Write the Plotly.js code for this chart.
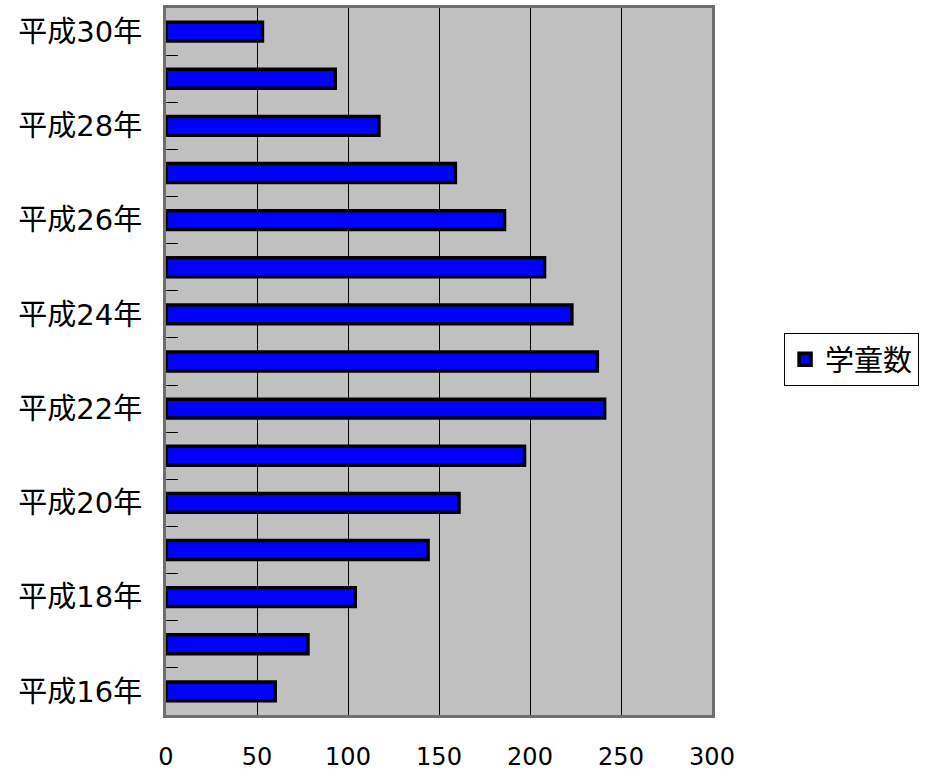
<!DOCTYPE html>
<html>
<head>
<meta charset="utf-8">
<script src="https://cdn.plot.ly/plotly-3.0.1.min.js"></script>
<style>html,body{margin:0;padding:0;background:#fff;}#chart{width:944px;height:776px;}</style>
</head>
<body>
<div id="chart"></div>
<script>
const categories = ["平成16年","平成17年","平成18年","平成19年","平成20年","平成21年","平成22年","平成23年","平成24年","平成25年","平成26年","平成27年","平成28年","平成29年","平成30年"];
const tickLabels = ["平成16年","","平成18年","","平成20年","","平成22年","","平成24年","","平成26年","","平成28年","","平成30年"];
const values = [60, 78, 104, 144, 161, 197, 241, 237, 223, 208, 186, 159, 117, 93, 53];
const seriesName = "学童数";
const xTicks = [0, 50, 100, 150, 200, 250, 300];

const trace = {
  type: "bar",
  orientation: "h",
  name: seriesName,
  y: categories,
  x: values,
  width: 0.4,
  marker: {color: "#0000FF", line: {color: "#000000", width: 3.5}},
  showlegend: true,
  hoverinfo: "x+y"
};

const layout = {
  width: 944, height: 776,
  margin: {l: 166, r: 232, t: 8, b: 61},
  paper_bgcolor: "#FFFFFF",
  plot_bgcolor: "#C0C0C0",
  font: {family: "DejaVu Sans, 'Noto Sans CJK JP', sans-serif", color: "#000"},
  showlegend: true,
  xaxis: {
    range: [0, 300],
    tickvals: xTicks,
    ticks: "",
    showgrid: true, gridcolor: "#000000", gridwidth: 1,
    zeroline: false,
    showline: true, linecolor: "#6e6e6e", linewidth: 3, mirror: true,
    tickfont: {size: 24, family: "DejaVu Sans, sans-serif"},
    ticklabelstandoff: 18,
    fixedrange: true
  },
  yaxis: {
    type: "category",
    categoryorder: "array",
    categoryarray: categories,
    tickmode: "array",
    tickvals: categories,
    ticktext: tickLabels,
    tickson: "boundaries",
    ticks: "inside", ticklen: 12, tickcolor: "#000", tickwidth: 1,
    showgrid: false,
    showline: true, linecolor: "#6e6e6e", linewidth: 3, mirror: true,
    tickfont: {size: 29, family: "DejaVu Sans, 'Noto Sans CJK JP', sans-serif"},
    ticklabelstandoff: 15,
    range: [-0.5, 14.5],
    fixedrange: true
  },
  legend: {
    x: 1.132, xanchor: "left",
    y: 0.503, yanchor: "middle",
    bgcolor: "#FFFFFF",
    bordercolor: "#000000", borderwidth: 1,
    font: {size: 29, family: "'Noto Sans CJK JP', sans-serif"}
  }
};

Plotly.newPlot("chart", [trace], layout, {displayModeBar: false, staticPlot: true});
</script>
</body>
</html>
